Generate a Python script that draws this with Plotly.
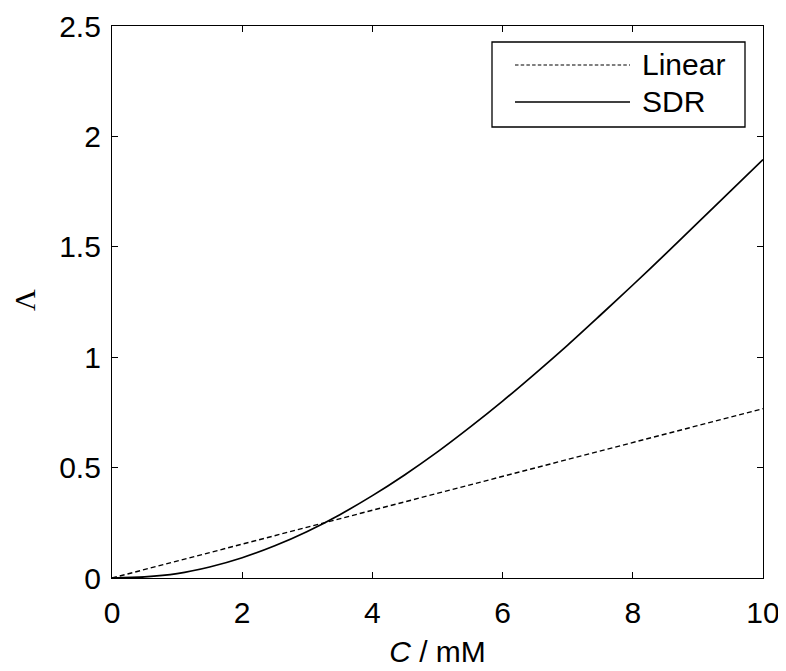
import plotly.graph_objects as go

# Data
conc_sdr = [0, 0.5, 1, 1.5, 2, 2.5, 3, 3.5, 4, 4.5, 5, 5.5, 6, 6.5, 7, 7.5, 8, 8.5, 9, 9.5, 10]
lambda_sdr = [0, 0.005, 0.02, 0.05, 0.092, 0.146, 0.211, 0.287, 0.373, 0.468, 0.571,
              0.683, 0.801, 0.926, 1.055, 1.19, 1.327, 1.467, 1.609, 1.752, 1.895]
conc_lin = [0, 10]
lambda_lin = [0, 0.767]

x_ticks = [0, 2, 4, 6, 8, 10]
y_ticks = [0, 0.5, 1, 1.5, 2, 2.5]
y_tick_text = ["0", "0.5", "1", "1.5", "2", "2.5"]
legend_names = ["Linear", "SDR"]
y_title = "Λ"

FONT = "Liberation Sans, Arial, sans-serif"
FS = 30

# plot-area geometry in page pixels (page has an 8px body offset)
PLOT_LEFT, PLOT_RIGHT, PLOT_TOP, PLOT_BOTTOM = 112, 763, 26, 578

fig = go.Figure()
fig.add_trace(go.Scatter(x=conc_lin, y=lambda_lin, mode="lines", name=legend_names[0],
                         line=dict(color="black", width=1.4, dash="5px,3px"), showlegend=False))
fig.add_trace(go.Scatter(x=conc_sdr, y=lambda_sdr, mode="lines", name=legend_names[1],
                         line=dict(color="black", width=1.7, shape="spline", smoothing=0.8),
                         showlegend=False))

axis_common = dict(showgrid=False, zeroline=False, showline=True, linecolor="black", linewidth=1.3,
                   mirror="ticks", ticks="inside", ticklen=6, tickwidth=1.3, tickcolor="black",
                   automargin=False, ticklabeloverflow="allow",
                   tickfont=dict(family=FONT, size=FS, color="black"))

fig.update_xaxes(range=[0, 10], tickvals=x_ticks, ticktext=[str(v) for v in x_ticks],
                 title=dict(text="<i>C</i> / mM", font=dict(family=FONT, size=FS, color="black"), standoff=12),
                 ticklabelstandoff=8, **axis_common)
fig.update_yaxes(range=[0, 2.5], tickvals=y_ticks, ticktext=y_tick_text,
                 ticklabelstandoff=4, **axis_common)

def px_x(px):
    return (px - PLOT_LEFT) / float(PLOT_RIGHT - PLOT_LEFT)

def px_y(py):
    return (PLOT_BOTTOM - py) / float(PLOT_BOTTOM - PLOT_TOP)

shapes = [
    dict(type="rect", xref="paper", yref="paper", x0=px_x(492), x1=px_x(745), y0=px_y(127), y1=px_y(42),
         line=dict(color="black", width=1.3), fillcolor="white", layer="above"),
    dict(type="line", xref="paper", yref="paper", x0=px_x(515), x1=px_x(630), y0=px_y(65), y1=px_y(65),
         line=dict(color="black", width=1.2, dash="3.5px,2.2px"), layer="above"),
    dict(type="line", xref="paper", yref="paper", x0=px_x(515), x1=px_x(630), y0=px_y(102), y1=px_y(102),
         line=dict(color="black", width=1.5), layer="above"),
]
annotations = [
    dict(x=px_x(640), y=px_y(65), xref="paper", yref="paper", text=legend_names[0], showarrow=False,
         xanchor="left", yanchor="middle", font=dict(family=FONT, size=FS, color="black")),
    dict(x=px_x(640), y=px_y(101), xref="paper", yref="paper", text=legend_names[1], showarrow=False,
         xanchor="left", yanchor="middle", font=dict(family=FONT, size=FS, color="black")),
    dict(x=px_x(24), y=px_y(300), xref="paper", yref="paper", text=y_title, showarrow=False,
         textangle=-90, xanchor="center", yanchor="middle",
         font=dict(family="Liberation Serif, Times New Roman, serif", size=30, color="black")),
]

fig.update_layout(width=786, height=671,
                  margin=dict(l=PLOT_LEFT - 8, r=786 - PLOT_RIGHT + 8, t=PLOT_TOP - 8, b=671 - PLOT_BOTTOM + 8),
                  paper_bgcolor="white", plot_bgcolor="white", showlegend=False,
                  shapes=shapes, annotations=annotations)

fig.write_html("out.html")
